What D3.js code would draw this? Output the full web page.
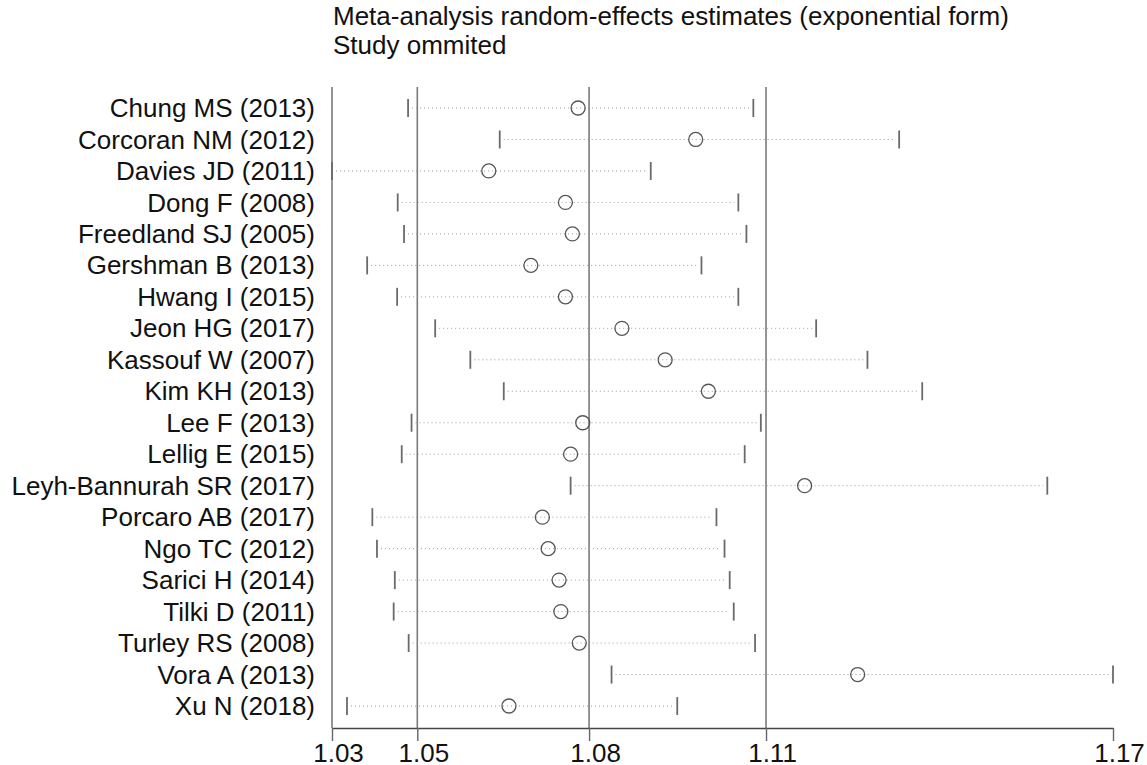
<!DOCTYPE html>
<html>
<head>
<meta charset="utf-8">
<script src="https://cdn.jsdelivr.net/npm/d3@7"></script>
<style>
  body { margin: 0; background: #fff; }
  text { font-family: "Liberation Sans", Arial, sans-serif; fill: #111; }
</style>
</head>
<body>
<div id="container"></div>
<script>

// studies, one per row, top to bottom
var studies = ["Chung MS (2013)", "Corcoran NM (2012)", "Davies JD (2011)", "Dong F (2008)",
  "Freedland SJ (2005)", "Gershman B (2013)", "Hwang I (2015)", "Jeon HG (2017)",
  "Kassouf W (2007)", "Kim KH (2013)", "Lee F (2013)", "Lellig E (2015)",
  "Leyh-Bannurah SR (2017)", "Porcaro AB (2017)", "Ngo TC (2012)", "Sarici H (2014)",
  "Tilki D (2011)", "Turley RS (2008)", "Vora A (2013)", "Xu N (2018)"];

// pooled estimate with that study left out
var estimates = [1.0772, 1.0976, 1.0617, 1.0750, 1.0762, 1.0690, 1.0750, 1.0848,
  1.0923, 1.0998, 1.0780, 1.0759, 1.1165, 1.0710, 1.0720, 1.0739,
  1.0742, 1.0774, 1.1257, 1.0652];

var lowerCI = [1.0477, 1.0636, 1.0345, 1.0459, 1.0470, 1.0406, 1.0458, 1.0524,
  1.0585, 1.0643, 1.0483, 1.0466, 1.0759, 1.0415, 1.0423, 1.0454,
  1.0452, 1.0478, 1.0830, 1.0371];

var upperCI = [1.1076, 1.1329, 1.0898, 1.1050, 1.1064, 1.0986, 1.1050, 1.1185,
  1.1274, 1.1369, 1.1089, 1.1061, 1.1586, 1.1012, 1.1026, 1.1035,
  1.1042, 1.1079, 1.1700, 1.0944];

// overall: lower bound, estimate, upper bound
var overall = [1.0493, 1.0791, 1.1098];

var tickValues = [1.0345, 1.0493, 1.0791, 1.1098, 1.1700];
var tickLabels = ["1.03", "1.05", "1.08", "1.11", "1.17"];

var titleLines = ["Meta-analysis random-effects estimates (exponential form)", "Study ommited"];

var width = 1147, height = 765;
var plotLeft = 332, plotRight = 1113, firstRow = 108, lastRow = 706;
var axisY = 728, plotTop = 87;
var fontSize = "26px";

var svg = d3.select("#container").append("svg")
  .attr("width", width)
  .attr("height", height);

var x = d3.scaleLinear()
  .domain([tickValues[0], tickValues[tickValues.length - 1]])
  .range([plotLeft, plotRight]);

var y = d3.scalePoint()
  .domain(studies)
  .range([firstRow, lastRow]);

var rows = studies.map(function(s, i){
  return { name: s, est: estimates[i], lo: lowerCI[i], hi: upperCI[i] };
});

// title
svg.selectAll("text.title")
  .data(titleLines)
  .enter()
  .append("text")
  .attr("class", "title")
  .attr("x", plotLeft + 1)
  .attr("y", function(d, i){ return 25 + i * 29; })
  .style("font-size", fontSize)
  .text(function(d){ return d; });

// vertical lines for the overall estimate and its CI
svg.selectAll("line.ref")
  .data(overall)
  .enter()
  .append("line")
  .attr("class", "ref")
  .attr("x1", function(d){ return x(d); })
  .attr("x2", function(d){ return x(d); })
  .attr("y1", plotTop)
  .attr("y2", axisY)
  .style("stroke", "#7a7a7a")
  .style("stroke-width", 1.6);

// left axis line
svg.append("line")
  .attr("x1", plotLeft).attr("x2", plotLeft)
  .attr("y1", plotTop).attr("y2", axisY)
  .style("stroke", "#666")
  .style("stroke-width", 1.4);

// bottom axis
var xAxis = d3.axisBottom(x)
  .tickValues(tickValues)
  .tickFormat(function(d, i){ return tickLabels[i]; })
  .tickSizeInner(13)
  .tickSizeOuter(0);

var gx = svg.append("g")
  .attr("transform", "translate(0," + axisY + ")")
  .call(xAxis);

gx.select(".domain").style("stroke", "#444").style("stroke-width", 1.4);
gx.selectAll(".tick line").style("stroke", "#666").style("stroke-width", 1.4);
gx.selectAll(".tick text")
  .attr("y", 16)
  .attr("dx", 6)
  .style("font-size", fontSize)
  .style("font-family", "Liberation Sans, Arial, sans-serif")
  .style("fill", "#111");

// study labels
svg.selectAll("text.study")
  .data(rows)
  .enter()
  .append("text")
  .attr("class", "study")
  .attr("x", 315)
  .attr("y", function(d){ return y(d.name); })
  .attr("dy", "0.35em")
  .attr("text-anchor", "end")
  .style("font-size", fontSize)
  .text(function(d){ return d.name; });

// dotted CI lines
svg.selectAll("line.ci")
  .data(rows)
  .enter()
  .append("line")
  .attr("class", "ci")
  .attr("x1", function(d){ return x(d.lo) + 4; })
  .attr("x2", function(d){ return x(d.hi) - 4; })
  .attr("y1", function(d){ return y(d.name); })
  .attr("y2", function(d){ return y(d.name); })
  .style("stroke", "#9a9a9a")
  .style("stroke-width", 1)
  .style("stroke-dasharray", "1,3");

// CI end caps
var caps = [];
rows.forEach(function(d){
  caps.push({ v: d.lo, name: d.name });
  caps.push({ v: d.hi, name: d.name });
});

svg.selectAll("line.cap")
  .data(caps)
  .enter()
  .append("line")
  .attr("class", "cap")
  .attr("x1", function(d){ return x(d.v); })
  .attr("x2", function(d){ return x(d.v); })
  .attr("y1", function(d){ return y(d.name) - 9; })
  .attr("y2", function(d){ return y(d.name) + 9; })
  .style("stroke", "#6a6a6a")
  .style("stroke-width", 1.8);

// estimates
svg.selectAll("circle")
  .data(rows)
  .enter()
  .append("circle")
  .attr("cx", function(d){ return x(d.est); })
  .attr("cy", function(d){ return y(d.name); })
  .attr("r", 7)
  .style("fill", "none")
  .style("stroke", "#555")
  .style("stroke-width", 1.3);

</script>
</body>
</html>
